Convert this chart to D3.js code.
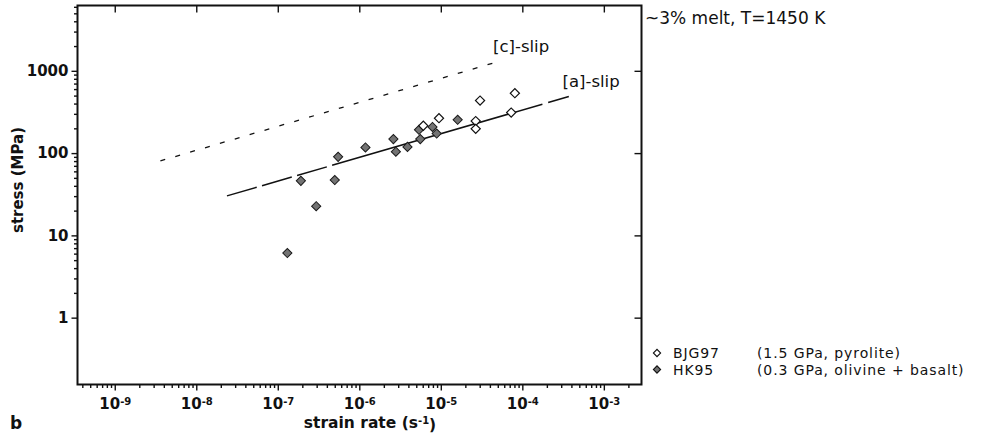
<!DOCTYPE html>
<html>
<head>
<meta charset="utf-8">
<script src="https://cdn.jsdelivr.net/npm/d3@7"></script>
<style>
  body { margin: 0; background: #fff; }
  svg { display: block; }
  text { font-family: "DejaVu Sans", sans-serif; fill: #111; }
  .tick text { font-weight: bold; font-size: 15px; }
</style>
</head>
<body>
<svg id="svg1" width="991" height="440"></svg>
<script>
// tick values and labels
var xMajor = [1e-9, 1e-8, 1e-7, 1e-6, 1e-5, 1e-4, 1e-3];
var xExp = ['-9', '-8', '-7', '-6', '-5', '-4', '-3'];
var yMajor = [1, 10, 100, 1000];
var yLabels = ['1', '10', '100', '1000'];

// HK95 (0.3 GPa, olivine + basalt) - grey diamonds
var hkStrain = [1.31e-7, 1.92e-7, 2.96e-7, 5.0e-7, 5.5e-7, 1.19e-6, 2.62e-6, 2.81e-6, 3.9e-6, 5.4e-6, 5.6e-6, 7.9e-6, 8.9e-6, 1.61e-5];
var hkStress = [6.1, 46, 22.6, 47, 90, 117, 148, 104, 119, 192, 148, 208, 173, 254];

// BJG97 (1.5 GPa, pyrolite) - open diamonds
var bjgStrain = [6.1e-6, 9.5e-6, 2.68e-5, 2.68e-5, 3.03e-5, 7.3e-5, 8.1e-5];
var bjgStress = [215, 266, 245, 197, 435, 311, 535];

// flow laws
var cSlipStrain = [3.63e-9, 5.42e-5];
var cSlipStress = [80.4, 1323];
var aSlipStrain = [2.38e-8, 3.72e-4];
var aSlipStress = [30.2, 487];

var marginLeft = 77.5;
var marginTop = 5.5;
var w = 564;
var h = 379;

var svg = d3.select('#svg1')
    .append('g')
    .attr('transform', 'translate(' + marginLeft + ',' + marginTop + ')');

var x = d3.scaleLog().domain([Math.pow(10, -9.457), Math.pow(10, -2.538)]).range([0, w]);
var y = d3.scaleLog().domain([Math.pow(10, -0.8125), Math.pow(10, 3.794)]).range([h, 0]);

var xMinor = x.ticks().filter(function(d){ return xMajor.indexOf(d) < 0; });
var yMinor = y.ticks().filter(function(d){ return d >= 1 && yMajor.indexOf(d) < 0; });

// minor ticks (bottom, left - outward)
svg.append('g')
    .attr('transform', 'translate(0,' + h + ')')
    .call(d3.axisBottom(x).tickValues(xMinor).tickSize(3.5).tickFormat(''));
svg.append('g')
    .call(d3.axisLeft(y).tickValues(yMinor).tickSize(3.5).tickFormat(''));

// major bottom
var xAx = svg.append('g')
    .attr('class', 'x-axis')
    .attr('transform', 'translate(0,' + h + ')')
    .call(d3.axisBottom(x).tickValues(xMajor).tickSize(6).tickPadding(8));
xAx.selectAll('.tick text').each(function(d, i){
    var t = d3.select(this).text(null);
    t.append('tspan').text('10');
    t.append('tspan').attr('dy', '-0.45em').style('font-size', '10px').text(xExp[i]);
});

// major left
svg.append('g')
    .call(d3.axisLeft(y).tickValues(yMajor).tickSize(6).tickPadding(3)
        .tickFormat(function(d, i){ return yLabels[i]; }));

// top + right inward
svg.append('g')
    .call(d3.axisBottom(x).tickValues(xMajor).tickSize(7).tickFormat(''));
svg.append('g')
    .attr('transform', 'translate(' + w + ',0)')
    .call(d3.axisLeft(y).tickValues(yMajor).tickSize(7).tickFormat(''));

svg.selectAll('.domain').remove();
svg.selectAll('.tick line').attr('stroke', '#111').attr('stroke-width', 1.4);

svg.append('rect')
    .attr('width', w).attr('height', h)
    .attr('fill', 'none').attr('stroke', '#111').attr('stroke-width', 2);

// flow law lines
var line = d3.line().x(function(d){ return x(d[0]); }).y(function(d){ return y(d[1]); });

svg.append('path')
    .datum(d3.zip(cSlipStrain, cSlipStress))
    .attr('d', line)
    .attr('fill', 'none').attr('stroke', '#111').attr('stroke-width', 1.3)
    .attr('stroke-dasharray', '5,10.5');

svg.append('path')
    .datum(d3.zip(aSlipStrain, aSlipStress))
    .attr('d', line)
    .attr('fill', 'none').attr('stroke', '#111').attr('stroke-width', 1.5)
    .attr('stroke-dasharray', '31,5.5,31,5.5,31,5.5,219,6,25');

// diamonds
var diamond = d3.symbol().type(d3.symbolSquare).size(42);

svg.selectAll('.hk')
    .data(d3.zip(hkStrain, hkStress))
    .enter().append('path')
    .attr('class', 'hk')
    .attr('d', diamond)
    .attr('transform', function(d){ return 'translate(' + x(d[0]) + ',' + y(d[1]) + ') rotate(45)'; })
    .attr('fill', '#737373').attr('stroke', '#1a1a1a').attr('stroke-width', 1);

svg.selectAll('.bjg')
    .data(d3.zip(bjgStrain, bjgStress))
    .enter().append('path')
    .attr('class', 'bjg')
    .attr('d', diamond)
    .attr('transform', function(d){ return 'translate(' + x(d[0]) + ',' + y(d[1]) + ') rotate(45)'; })
    .attr('fill', '#fff').attr('stroke', '#111').attr('stroke-width', 1.2);

// line labels
svg.append('text').attr('x', 493 - marginLeft).attr('y', 52 - marginTop)
    .style('font-size', '16.5px').text('[c]-slip');
svg.append('text').attr('x', 562.5 - marginLeft).attr('y', 87 - marginTop)
    .style('font-size', '16.5px').text('[a]-slip');

// axis titles
var root = d3.select('#svg1');
var xt = root.append('text')
    .attr('x', 370).attr('y', 428)
    .attr('text-anchor', 'middle')
    .style('font-weight', 'bold').style('font-size', '15.5px');
xt.append('tspan').text('strain rate (s');
xt.append('tspan').attr('dy', '-0.45em').style('font-size', '10px').text('-1');
xt.append('tspan').attr('dy', '0.45em').text(')');

root.append('text')
    .attr('transform', 'translate(23,180) rotate(-90)')
    .attr('text-anchor', 'middle')
    .style('font-weight', 'bold').style('font-size', '15px')
    .text('stress (MPa)');

root.append('text').attr('x', 10).attr('y', 429)
    .style('font-weight', 'bold').style('font-size', '17px').text('b');

// annotation and legend
root.append('text').attr('x', 645).attr('y', 23.5)
    .style('font-size', '17px').text('~3% melt, T=1450 K');

var legend = [
    { name: 'BJG97', note: '(1.5 GPa, pyrolite)', fill: '#fff' },
    { name: 'HK95', note: '(0.3 GPa, olivine + basalt)', fill: '#737373' }
];
var lg = root.selectAll('.lg').data(legend).enter().append('g')
    .attr('class', 'lg')
    .attr('transform', function(d, i){ return 'translate(657,' + (353 + i * 16.5) + ')'; });
lg.append('path')
    .attr('d', d3.symbol().type(d3.symbolSquare).size(26))
    .attr('transform', 'rotate(45)')
    .attr('fill', function(d){ return d.fill; })
    .attr('stroke', '#111').attr('stroke-width', 1.1);
lg.append('text').attr('x', 16).attr('y', 5)
    .style('font-size', '14px').style('letter-spacing', '0.9px').text(function(d){ return d.name; });
lg.append('text').attr('x', 100).attr('y', 5)
    .style('font-size', '14px').style('letter-spacing', '0.9px').text(function(d){ return d.note; });
</script>
</body>
</html>
